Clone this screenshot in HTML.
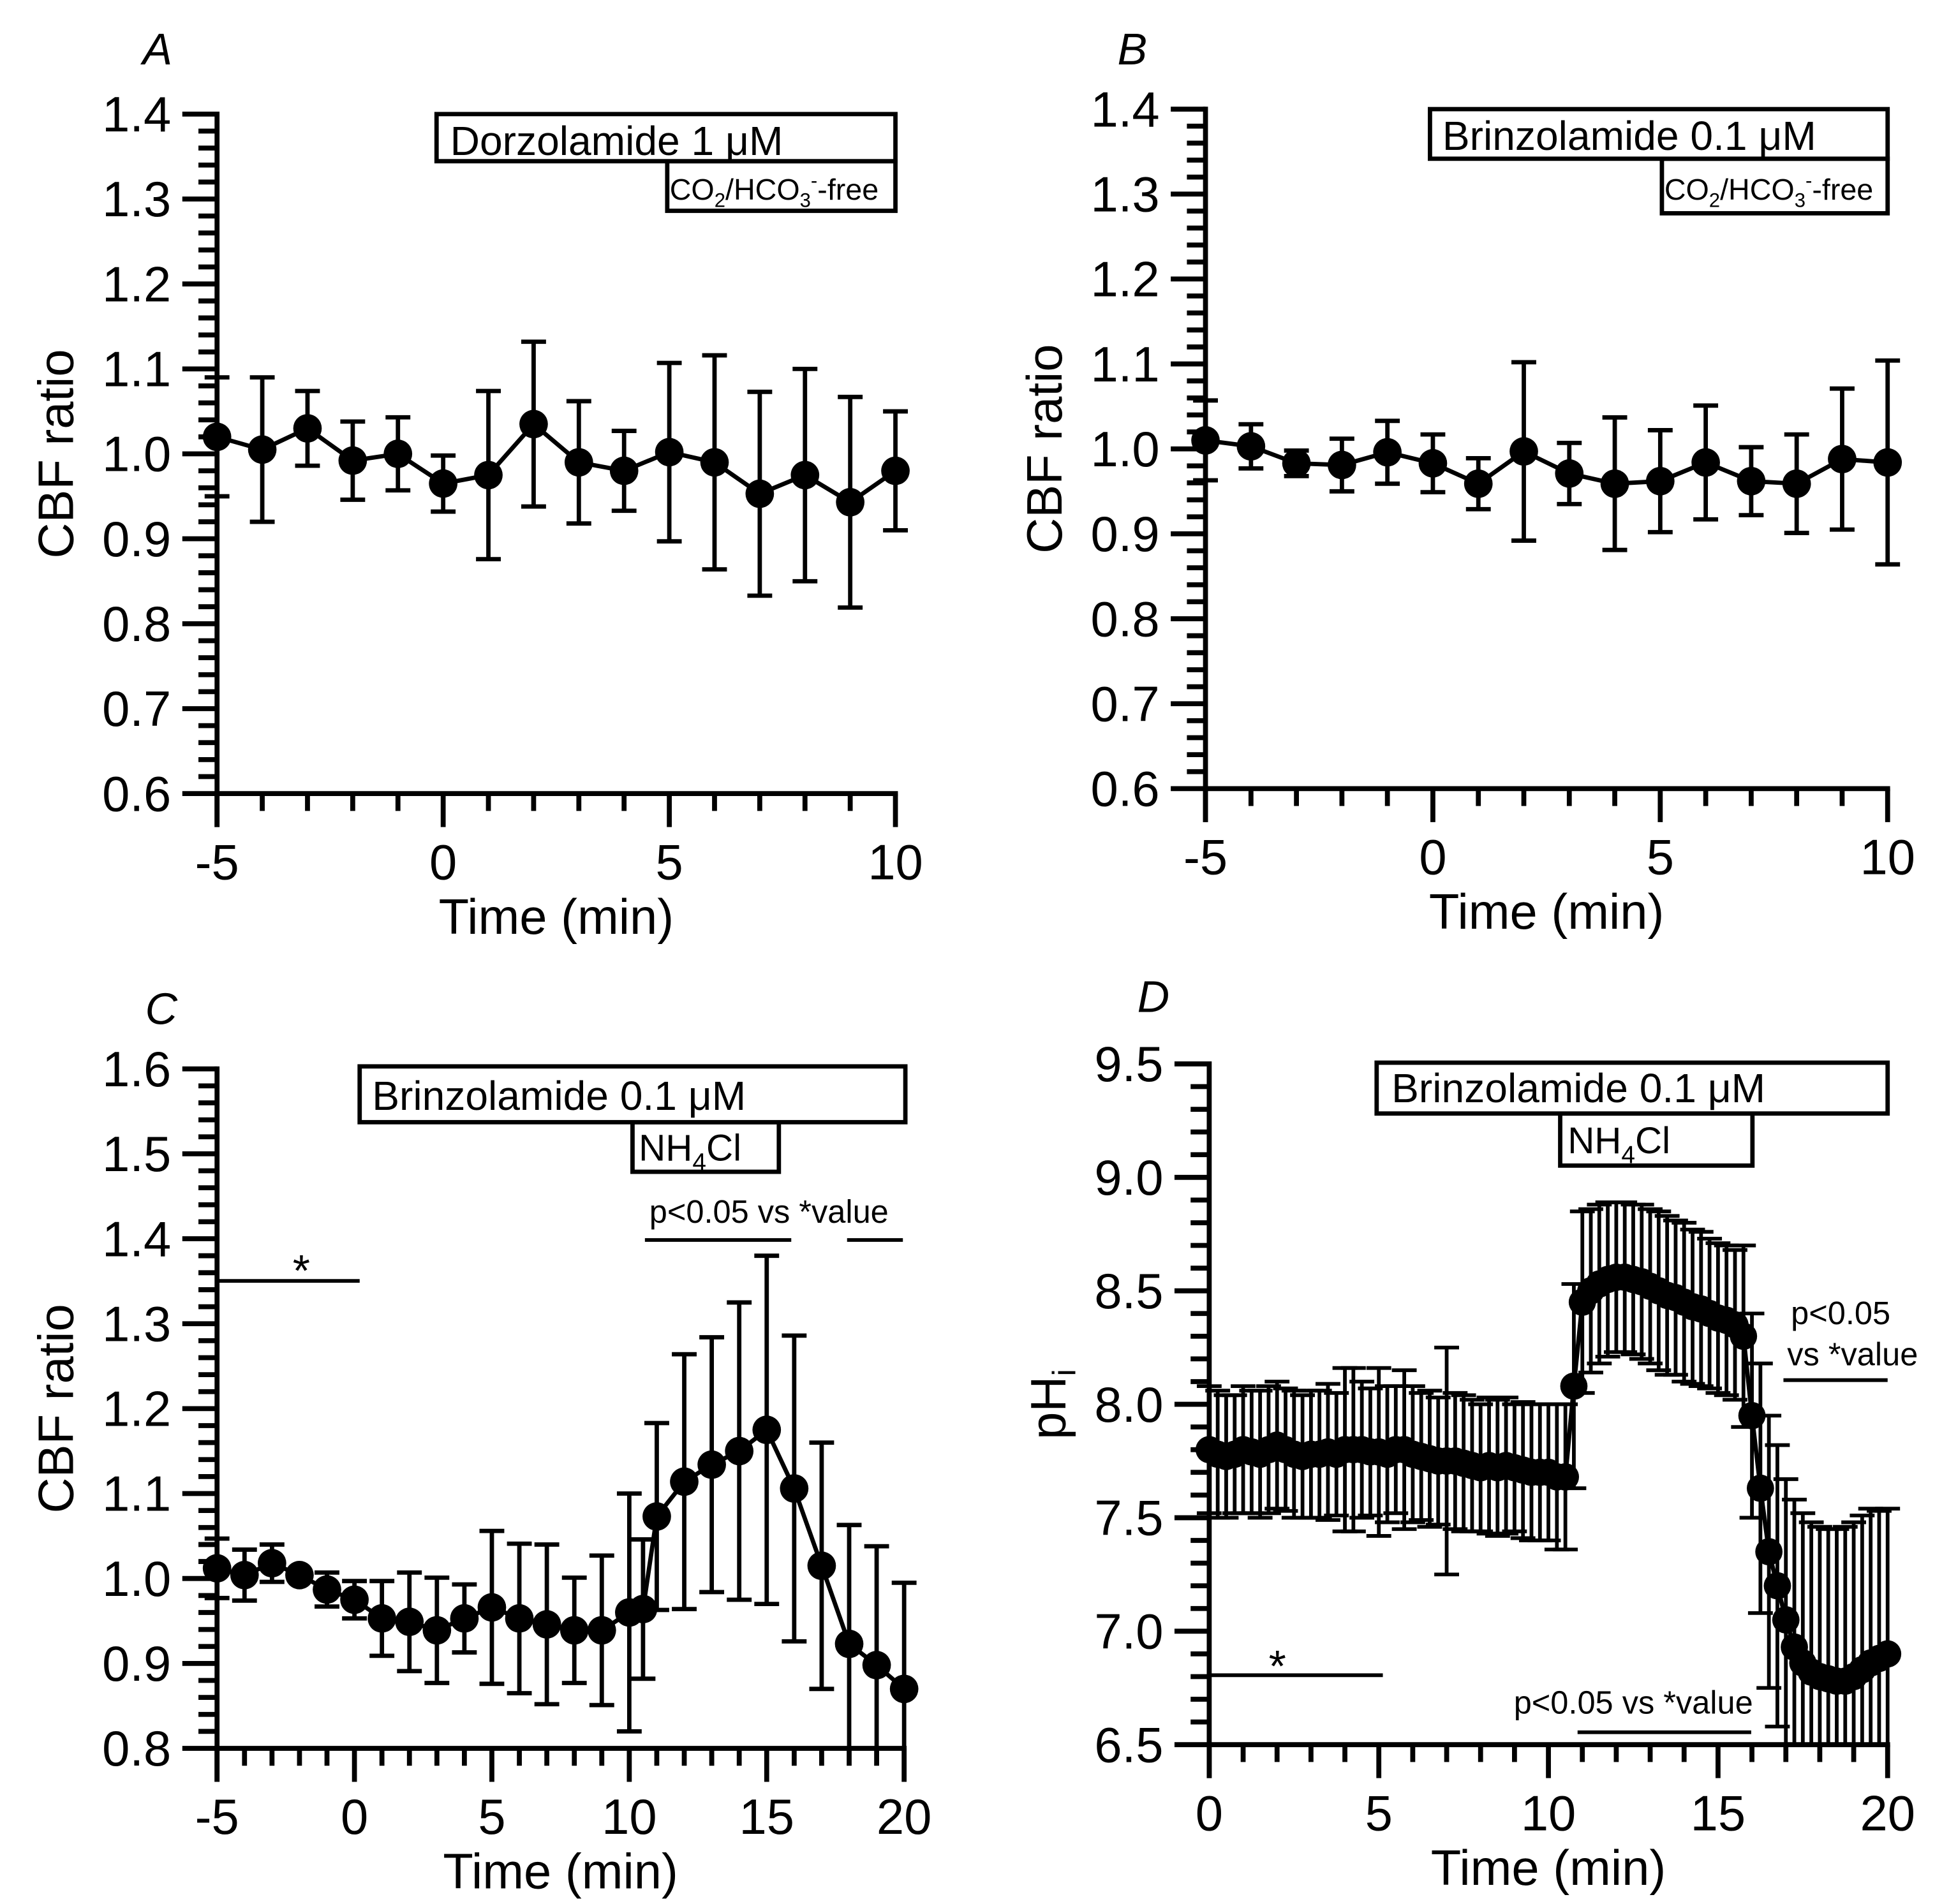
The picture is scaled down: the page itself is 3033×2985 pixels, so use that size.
<!DOCTYPE html>
<html><head><meta charset="utf-8">
<style>
html,body{margin:0;padding:0;background:#fff;}
svg{display:block;}
text{font-family:"Liberation Sans",Arial,sans-serif;fill:#000;}
</style></head>
<body>
<svg id="fig" xmlns="http://www.w3.org/2000/svg" width="3033" height="2985" viewBox="0 0 1560.2 1535.5">
<rect x="0" y="0" width="1560.2" height="1535.5" fill="#fff"/>
</svg>
<script>
// ---- Panel A data ----
const timesA = [-5,-4,-3,-2,-1,0,1,2,3,4,5,6,7,8,9,10];
const valuesA = [1.02,1.005,1.03,0.992,1.0,0.965,0.975,1.035,0.99,0.98,1.002,0.99,0.953,0.975,0.943,0.98];
const errorsA = [0.07,0.085,0.044,0.046,0.043,0.033,0.099,0.097,0.072,0.047,0.105,0.126,0.12,0.125,0.124,0.07];
// ---- Panel B data ----
const timesB = [-5,-4,-3,-2,-1,0,1,2,3,4,5,6,7,8,9,10];
const valuesB = [1.01,1.003,0.983,0.981,0.996,0.983,0.959,0.997,0.971,0.959,0.962,0.984,0.962,0.959,0.988,0.984];
const errorsB = [0.047,0.026,0.015,0.031,0.037,0.034,0.03,0.105,0.036,0.078,0.06,0.067,0.04,0.058,0.083,0.12];
// ---- Panel C data ----
const timesC = [-5,-4,-3,-2,-1,0,1,2,3,4,5,6,7,8,9,10,10.5,11,12,13,14,15,16,17,18,19,20];
const valuesC = [1.012,1.004,1.018,1.004,0.987,0.975,0.953,0.949,0.939,0.953,0.966,0.953,0.946,0.939,0.939,0.96,0.964,1.073,1.114,1.134,1.15,1.175,1.106,1.015,0.923,0.898,0.87];
const errorsC = [0.035,0.03,0.022,0.0,0.02,0.022,0.044,0.058,0.062,0.04,0.09,0.088,0.094,0.062,0.088,0.14,0.082,0.11,0.15,0.15,0.175,0.205,0.18,0.145,0.14,0.14,0.125];
// ---- Panel D data (0.25 min sampling) ----
const valuesD = [7.8,7.78,7.77,7.78,7.8,7.79,7.78,7.8,7.82,7.8,7.78,7.77,7.78,7.78,7.79,7.78,7.8,7.8,7.8,7.79,7.79,7.78,7.8,7.8,7.78,7.77,7.76,7.75,7.75,7.75,7.74,7.73,7.72,7.73,7.72,7.73,7.72,7.71,7.7,7.7,7.7,7.68,7.68,
8.08,8.45,8.5,8.53,8.55,8.56,8.56,8.55,8.54,8.52,8.5,8.48,8.47,8.45,8.43,8.42,8.4,8.38,8.37,8.35,8.3,7.95,7.63,7.35,7.2,7.05,6.93,6.86,6.82,6.8,6.79,6.78,6.78,6.8,6.83,6.86,6.88,6.9];
const errorsD = [0.28,0.28,0.27,0.26,0.28,0.27,0.28,0.28,0.28,0.27,0.28,0.27,0.28,0.28,0.3,0.27,0.36,0.36,0.3,0.28,0.37,0.3,0.28,0.35,0.3,0.28,0.3,0.28,0.5,0.3,0.3,0.29,0.28,0.3,0.3,0.3,0.28,0.3,0.3,0.3,0.3,0.32,0.32,
0.45,0.4,0.36,0.35,0.34,0.33,0.33,0.33,0.34,0.34,0.35,0.35,0.34,0.35,0.34,0.34,0.33,0.33,0.33,0.33,0.4,0.45,0.55,0.6,0.62,0.62,0.65,0.66,0.66,0.66,0.66,0.67,0.68,0.68,0.68,0.68,0.65,0.64];
const timesD = [];
for (let i = 0; i < valuesD.length; i++) timesD.push(i * 0.25);

const NS = 'http://www.w3.org/2000/svg';
const svg = document.getElementById('fig');
function mk(tag, attrs, parent) {
  const e = document.createElementNS(NS, tag);
  for (const k in attrs) e.setAttribute(k, attrs[k]);
  (parent || svg).appendChild(e);
  return e;
}

function panel(p) {
  const g = mk('g', {});
  
  
  const sx = v => p.x0 + (v - p.xmin) / (p.xmax - p.xmin) * (p.x1 - p.x0);
  const sy = v => p.yBot - (v - p.ymin) / (p.ymax - p.ymin) * (p.yBot - p.yTop);
  const ax = mk('g', {stroke: '#000', 'stroke-width': 4, fill: 'none'}, g);
  
  
  mk('line', {x1: p.x0, y1: p.yTop - 2, x2: p.x0, y2: p.yBot + 27}, ax);
  mk('line', {x1: p.x0 - 2, y1: p.yBot, x2: p.x1 + 2, y2: p.yBot}, ax);
  const nMinorY = Math.round((p.ymax - p.ymin) / p.yMinor);
  for (let i = 0; i <= nMinorY; i++) {
    const v = p.ymin + i * p.yMinor;
    const isMajor = i % p.yMajorEvery === 0;
    const y = sy(v);
    mk('line', {x1: p.x0 - (isMajor ? 28 : 15), y1: y, x2: p.x0, y2: y}, ax);
    if (isMajor) {
      const t = mk('text', {x: p.x0 - 37, y: y + 14, 'font-size': 40, 'text-anchor': 'end'}, g);
      
      
      t.textContent = v.toFixed(1);
    }
  }
  const nMinorX = Math.round((p.xmax - p.xmin) / 1);
  for (let i = 0; i <= nMinorX; i++) {
    const v = p.xmin + i;
    const isMajor = v % 5 === 0;
    const x = sx(v);
    mk('line', {x1: x, y1: p.yBot, x2: x, y2: p.yBot + (isMajor ? 27 : 14)}, ax);
    if (isMajor) {
      const t = mk('text', {x: x, y: p.yBot + 69, 'font-size': 40, 'text-anchor': 'middle'}, g);
      
      
      t.textContent = String(v);
    }
  }
  const xt = mk('text', {x: (p.x0 + p.x1) / 2, y: p.yBot + 113, 'font-size': 40, 'text-anchor': 'middle'}, g);
  
  
  xt.textContent = 'Time (min)';
  const ytx = p.x0 - 116, yty = (p.yTop + p.yBot) / 2;
  const yt = mk('text', {x: ytx, y: yty, 'font-size': 40, 'text-anchor': 'middle', transform: 'rotate(-90 ' + ytx + ' ' + yty + ')'}, g);
  
  
  if (p.pH) {
    yt.textContent = 'pH';
    const s = mk('tspan', {'font-size': 26, dy: 8}, yt); s.textContent = 'i';
  } else yt.textContent = 'CBF ratio';
  const L = mk('text', {x: p.letterX, y: p.letterY, 'font-size': 36, 'font-style': 'italic', 'text-anchor': 'middle'}, g);
  
  
  L.textContent = p.id.toUpperCase();
  const eg = mk('g', {stroke: '#000', 'stroke-width': p.ew, fill: 'none'}, g);
  
  
  for (let i = 0; i < p.t.length; i++) {
    if (p.e[i] <= 0) continue;
    const x = sx(p.t[i]);
    const hi = sy(p.v[i] + p.e[i]);
    let lo = sy(p.v[i] - p.e[i]);
    let loCap = true;
    if (lo > p.yBot) { lo = p.yBot; loCap = false; }
    const eb = mk('path', {d: 'M' + x + ' ' + hi + 'V' + lo + 'M' + (x - p.cap) + ' ' + hi + 'H' + (x + p.cap) + (loCap ? 'M' + (x - p.cap) + ' ' + lo + 'H' + (x + p.cap) : '')}, eg);
    
    
  }
  let d = '';
  for (let i = 0; i < p.t.length; i++) d += (i ? 'L' : 'M') + sx(p.t[i]) + ' ' + sy(p.v[i]);
  const ln = mk('path', {d: d, stroke: '#000', 'stroke-width': 3.5, fill: 'none'}, g);
  
  
  for (let i = 0; i < p.t.length; i++) {
    const c = mk('circle', {cx: sx(p.t[i]), cy: sy(p.v[i]), r: p.r, fill: '#000'}, g);
    
    
  }
  return g;
}

panel({id: 'a', x0: 175, x1: 722, yTop: 92, yBot: 640, xmin: -5, xmax: 10, ymin: 0.6, ymax: 1.4, yMinor: 0.02, yMajorEvery: 5,
  t: timesA, v: valuesA, e: errorsA, r: 11.5, cap: 10, ew: 3.5, letterX: 127, letterY: 52});
panel({id: 'b', x0: 972, x1: 1522, yTop: 88, yBot: 636, xmin: -5, xmax: 10, ymin: 0.6, ymax: 1.4, yMinor: 0.02, yMajorEvery: 5,
  t: timesB, v: valuesB, e: errorsB, r: 11.5, cap: 10, ew: 3.5, letterX: 913, letterY: 52});
panel({id: 'c', x0: 175, x1: 729, yTop: 862, yBot: 1410, xmin: -5, xmax: 20, ymin: 0.8, ymax: 1.6, yMinor: 0.02, yMajorEvery: 5,
  t: timesC, v: valuesC, e: errorsC, r: 11.5, cap: 10, ew: 3.5, letterX: 130, letterY: 826});
panel({id: 'd', x0: 975, x1: 1522, yTop: 858, yBot: 1407, xmin: 0, xmax: 20, ymin: 6.5, ymax: 9.5, yMinor: 0.1, yMajorEvery: 5, pH: true,
  t: timesD, v: valuesD, e: errorsD, r: 11, cap: 10, ew: 3, letterX: 930, letterY: 816});

function box(x, y, w, h, name) {
  const r = mk('rect', {x: x, y: y, width: w, height: h, fill: '#fff', stroke: '#000', 'stroke-width': 3.5});
  
  
}
function txt(x, y, s, size, name, anchor) {
  const t = mk('text', {x: x, y: y, 'font-size': size, 'text-anchor': anchor || 'start'});
  
  
  t.textContent = s;
  return t;
}
function hline(x1, x2, y, name) {
  const l = mk('line', {x1: x1, y1: y, x2: x2, y2: y, stroke: '#000', 'stroke-width': 3});
  
  
}
function co2(x, y) {
  const t = mk('text', {x: x, y: y, 'font-size': 24});
  
  
  t.appendChild(document.createTextNode('CO'));
  let s = mk('tspan', {'font-size': 16, dy: 6}, t); s.textContent = '2';
  s = mk('tspan', {dy: -6}, t); s.textContent = '/HCO';
  s = mk('tspan', {'font-size': 16, dy: 6}, t); s.textContent = '3';
  s = mk('tspan', {'font-size': 16, dy: -16}, t); s.textContent = '-';
  s = mk('tspan', {dy: 10}, t); s.textContent = '-free';
}
function nh4(x, y) {
  const t = mk('text', {x: x, y: y, 'font-size': 30});
  
  
  t.appendChild(document.createTextNode('NH'));
  let s = mk('tspan', {'font-size': 20, dy: 8}, t); s.textContent = '4';
  s = mk('tspan', {dy: -8}, t); s.textContent = 'Cl';
}
// A
box(538, 130, 184, 40, 'co2-free-box');
box(352, 92, 370, 38, 'drug-box');
txt(363, 125, 'Dorzolamide 1 \u03bcM', 33, 'drug-label');
co2(540, 161);
// B
box(1340, 128, 182, 44, 'co2-free-box');
box(1153, 88, 369, 40, 'drug-box');
txt(1163, 121, 'Brinzolamide 0.1 \u03bcM', 33, 'drug-label');
co2(1342, 161);
// C
box(510, 905, 118, 40, 'nh4cl-box');
box(290, 860, 440, 45, 'drug-box');
txt(300, 895, 'Brinzolamide 0.1 \u03bcM', 33, 'drug-label');
nh4(515, 936);
txt(620, 986, 'p<0.05 vs *value', 26, 'significance-label', 'middle');
hline(520, 638, 1000, 'significance-bar');
hline(683, 728, 1000, 'significance-bar');
txt(243, 1037, '*', 36, 'baseline-star', 'middle');
hline(175, 290, 1033, 'baseline-bar');
// D
box(1258, 898, 155, 42, 'nh4cl-box');
box(1110, 857, 412, 41, 'drug-box');
txt(1122, 889, 'Brinzolamide 0.1 \u03bcM', 33, 'drug-label');
nh4(1264, 930);
txt(1444, 1068, 'p<0.05', 26, 'significance-label');
txt(1441, 1101, 'vs *value', 26, 'significance-label');
hline(1438, 1522, 1113, 'significance-bar');
txt(1030, 1356, '*', 36, 'baseline-star', 'middle');
hline(975, 1115, 1351, 'baseline-bar');
txt(1317, 1382, 'p<0.05 vs *value', 26, 'significance-label', 'middle');
hline(1272, 1412, 1397, 'significance-bar');
</script>
</body></html>
